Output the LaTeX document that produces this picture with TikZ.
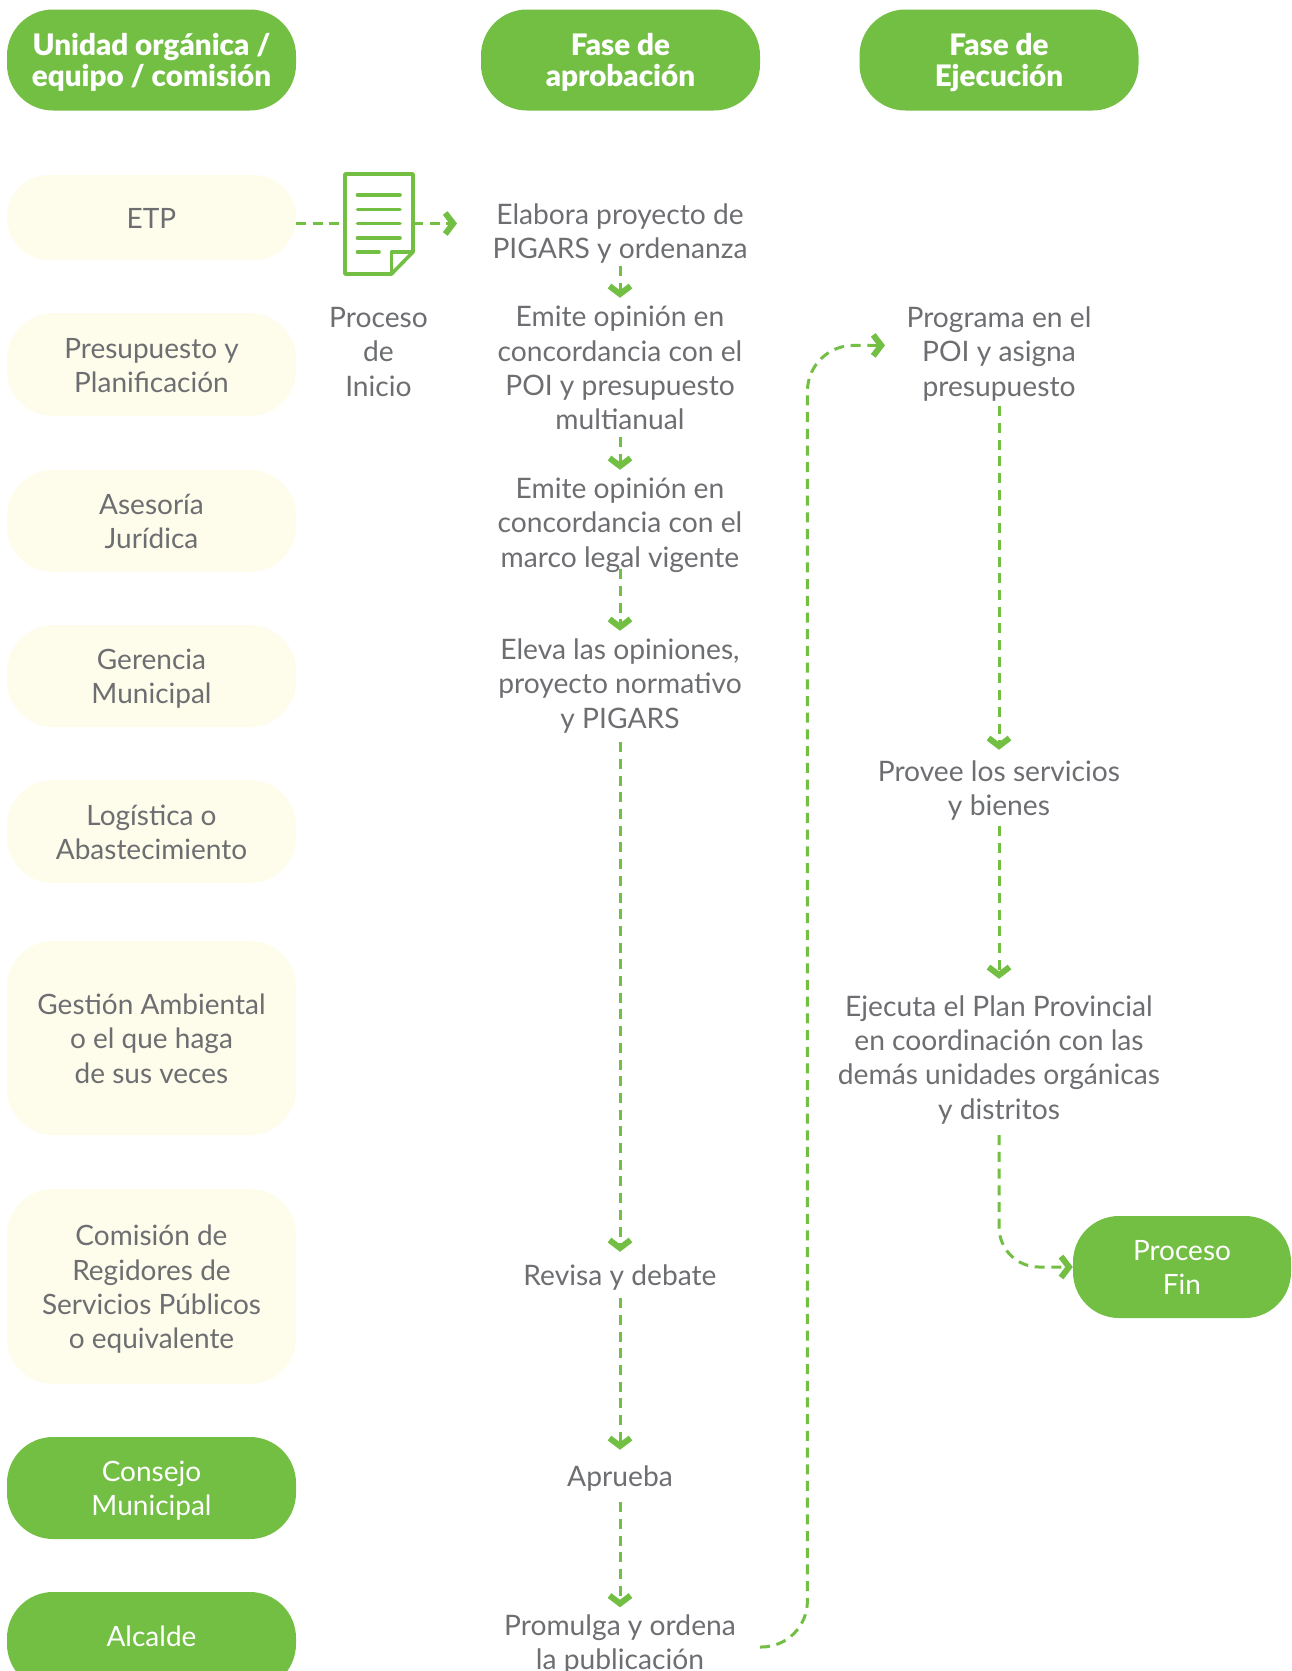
\documentclass[tikz,border=0pt]{standalone}
\usepackage{fontspec}
\setmainfont{Lato}
\newfontfamily\boldfont{Lato Black}
\usetikzlibrary{arrows.meta}

\definecolor{hojagreen}{RGB}{114,191,68}
\definecolor{creamfill}{RGB}{254,252,235}
\definecolor{textgray}{RGB}{109,110,113}

\tikzset{
  every node/.style={execute at begin node=\rule{0pt}{28pt}, execute at end node=\rule[-6.5pt]{0pt}{6.5pt}},
  pill/.style={rounded corners=#1, text width=289pt, align=flush center, inner sep=0pt,
    font=\fontsize{28}{34.3}\selectfont},
  pill/.default=46pt,
  greenpill/.style={pill, fill=hojagreen, text=white},
  creampill/.style={pill, fill=creamfill, text=textgray},
  headpill/.style={greenpill, minimum height=101pt, font=\boldfont\fontsize{29.6}{31}\selectfont},
  stepbox/.style={text width=360pt, align=flush center, inner sep=0pt, text=textgray, font=\fontsize{28.2}{34.3}\selectfont},
  flow/.style={hojagreen, line width=3pt, line join=round, dash pattern=on 10pt off 6.7pt,
    -{Straight Barb[length=8pt,width=21pt,line width=6pt]}},
}

\begin{document}
\begin{tikzpicture}[x=1pt,y=-1pt]
  \useasboundingbox (0,0) rectangle (1291,1671);
  \clip (0,0) rectangle (1291,1671);

  % headers
  \node[headpill] (unidad) at (151.5,60) {Unidad orgánica /\\equipo / comisión};
  \node[headpill, text width=279pt] (aprobacion) at (620.5,60) {Fase de\\aprobación};
  \node[headpill, text width=279pt] (ejecucion) at (999,60) {Fase de\\Ejecución};

  % left column
  \node[creampill, pill=42pt, minimum height=85pt] (etp) at (151.5,217.5) {ETP};
  \foreach \name/\ymid/\high/\txt in {
    presupuesto/364.5/103/{Presupuesto y\\Planificación},
    asesoria/521/102/{Asesoría\\Jurídica},
    gerencia/676/102/{Gerencia\\Municipal},
    logistica/831.5/103/{Logística o\\Abastecimiento},
    gestion/1038/194/{Gestión Ambiental\\o el que haga\\de sus veces},
    comision/1286.5/195/{Comisión de\\Regidores de\\Servicios Públicos\\o equivalente}}{
    \node[creampill, minimum height=\high pt] (\name) at (151.5,\ymid) {\txt};
  }
  \node[greenpill, minimum height=102pt] (consejo) at (151.5,1488) {Consejo\\Municipal};
  \node[greenpill, minimum height=98pt] (alcalde) at (151.5,1641) {\raisebox{5pt}{Alcalde}};

  % middle column
  \node[stepbox, minimum height=70pt] (elabora) at (620,231) {Elabora proyecto de\\PIGARS y ordenanza};
  \node[stepbox, minimum height=139pt] (opinionpoi) at (620,367.5) {Emite opinión en\\concordancia con el\\POI y presupuesto\\multianual};
  \node[stepbox, minimum height=104pt] (opinionlegal) at (620,522) {Emite opinión en\\concordancia con el\\marco legal vigente};
  \node[stepbox, minimum height=104pt] (eleva) at (620,683) {Eleva las opiniones,\\proyecto normativo\\y PIGARS};
  \node[stepbox, minimum height=46pt] (revisa) at (620,1275) {Revisa y debate};
  \node[stepbox, minimum height=52pt] (aprueba) at (620,1476) {Aprueba};
  \node[stepbox, minimum height=69pt] (promulga) at (620,1642) {Promulga y ordena\\la publicación};
  \node[stepbox] (inicio) at (378.5,351) {Proceso\\de\\Inicio};

  % right column
  \node[stepbox, minimum height=110pt] (programa) at (999,351) {Programa en el\\POI y asigna\\presupuesto};
  \node[stepbox, minimum height=76pt] (provee) at (999,788) {Provee los servicios\\y bienes};
  \node[stepbox, minimum height=156pt] (ejecuta) at (999,1057) {Ejecuta el Plan Provincial\\en coordinación con las\\demás unidades orgánicas\\y distritos};
  \node[greenpill, text width=218pt, minimum height=102pt] (fin) at (1182,1267) {Proceso\\Fin};

  \coordinate (etpout) at (296,223.5);
  \coordinate (elaboraint) at (457,223.5);
  \coordinate (promulgaout) at (760,1647);
  \coordinate (programaint) at (885,345.4);

  \draw[flow] (etpout) -- (elaboraint);
  \draw[flow] (elabora) -- (opinionpoi);
  \draw[flow] (opinionpoi) -- (opinionlegal);
  \draw[flow, shorten <=-5pt] (opinionlegal) -- (eleva);
  \draw[flow, shorten <=7pt] (eleva) -- (revisa);
  \draw[flow] (revisa) -- (aprueba);
  \draw[flow] (aprueba) -- (promulga);
  \draw[flow] (programa) -- (provee);
  \draw[flow] (provee) -- (ejecuta);
  \draw[flow, rounded corners=40pt] (ejecuta.south) -- (ejecuta.south |- fin.west) -- (fin.west);
  \draw[flow, rounded corners=46pt] (promulgaout) -- (807.4,1647) -- (807.4,345.4) -- (programaint);

  % document icon
  \draw[hojagreen, line width=3.6pt, line join=round, fill=white]
    (345,174) -- (413,174) -- (413,252) -- (391.5,274) -- (345,274) -- cycle;
  \draw[hojagreen, line width=3.6pt, line join=round] (413,252) -- (391.5,252) -- (391.5,274);
  \foreach \ypos in {195,209.5,223.5,238}{
    \draw[hojagreen, line width=3.6pt, line cap=round] (357.5,\ypos) -- (400,\ypos);
  }
  \draw[hojagreen, line width=3.6pt, line cap=round] (357.5,252) -- (379,252);
\end{tikzpicture}
\end{document}
